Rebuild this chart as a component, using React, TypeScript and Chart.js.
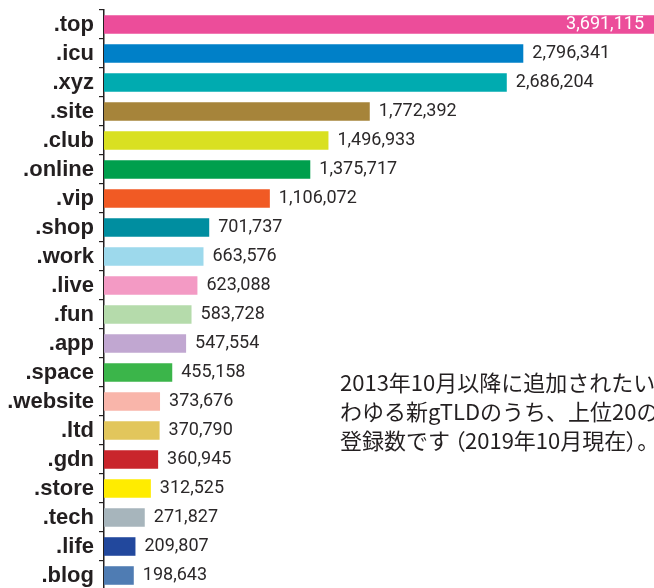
import React, { useEffect, useRef } from "react";
import { Chart, registerables } from "chart.js";

Chart.register(...registerables);

const categories = [
  ".top", ".icu", ".xyz", ".site", ".club", ".online", ".vip", ".shop", ".work", ".live",
  ".fun", ".app", ".space", ".website", ".ltd", ".gdn", ".store", ".tech", ".life", ".blog",
];

const registrations = [
  3691115, 2796341, 2686204, 1772392, 1496933, 1375717, 1106072, 701737, 663576, 623088,
  583728, 547554, 455158, 373676, 370790, 360945, 312525, 271827, 209807, 198643,
];

const barColors = [
  "#ec4d9a", "#0080c8", "#00abb0", "#a6843a", "#d9e021", "#009f4d", "#f15a24", "#008ea0",
  "#9dd9ec", "#f39ac4", "#b5dbab", "#c1a7d1", "#3bb54a", "#f9b5aa", "#e2c65c", "#c9252c",
  "#ffec00", "#a7b5bc", "#22489d", "#4f7cb3",
];

const noteLine1 = "2013年10月以降に追加されたい";
const noteLine2 = "わゆる新gTLDのうち、上位20の";
const noteLine3a = "登録数です";
const noteLine3b = "（2019年10月現在）";
const noteLine3c = "。";

const X_MAX = 3668000;

const valueLabelPlugin = {
  id: "valueLabels",
  afterDatasetsDraw(chart: any) {
    const ctx = chart.ctx;
    const meta = chart.getDatasetMeta(0);
    const area = chart.chartArea;
    ctx.save();
    ctx.font = "18px Roboto";
    ctx.textBaseline = "middle";
    meta.data.forEach((bar: any, i: number) => {
      const v = registrations[i];
      const text = v.toLocaleString("en-US");
      const w = ctx.measureText(text).width;
      if (bar.x + 9 + w > area.right) {
        ctx.fillStyle = "#ffffff";
        ctx.textAlign = "right";
        ctx.fillText(text, Math.min(bar.x, area.right) - 10, bar.y);
      } else {
        ctx.fillStyle = "#2b2829";
        ctx.textAlign = "left";
        ctx.fillText(text, bar.x + 9, bar.y);
      }
    });
    ctx.restore();
  },
};

export default function App() {
  const ref = useRef<HTMLCanvasElement | null>(null);

  useEffect(() => {
    document.documentElement.style.overflow = "hidden";
    document.body.style.overflow = "hidden";
    document.body.style.margin = "0";
    if (!ref.current) return;
    const chart = new Chart(ref.current, {
      type: "bar",
      data: {
        labels: categories,
        datasets: [
          {
            data: registrations,
            backgroundColor: barColors,
            borderWidth: 0,
            barPercentage: 0.64,
            categoryPercentage: 1,
          },
        ],
      },
      options: {
        indexAxis: "y",
        responsive: false,
        maintainAspectRatio: false,
        animation: false,
        layout: { padding: { top: 10, right: 0, bottom: 0, left: 0 } },
        plugins: {
          legend: { display: false },
          tooltip: { enabled: false },
          title: { display: false },
        },
        scales: {
          x: {
            display: false,
            min: 0,
            max: X_MAX,
          },
          y: {
            afterFit: (scale: any) => {
              scale.width = 104;
              scale.paddingTop = 0;
              scale.paddingBottom = 0;
            },
            grid: {
              display: true,
              drawOnChartArea: false,
              drawTicks: true,
              tickLength: 5,
              color: "#231f20",
              lineWidth: 1.2,
              offset: true,
            },
            border: { display: true, color: "#231f20", width: 1.5 },
            ticks: {
              color: "#231f20",
              padding: 5,
              autoSkip: false,
              font: { family: "'Liberation Sans', Arial, sans-serif", size: 22, weight: "bold", lineHeight: 1 },
            },
          },
        },
      },
      plugins: [valueLabelPlugin],
    });
    return () => chart.destroy();
  }, []);

  return (
    <div style={{ position: "fixed", left: 0, top: 0, width: 654, height: 590, background: "#ffffff" }}>
      <canvas ref={ref} width={654} height={590} style={{ width: 654, height: 590, display: "block" }} />
      <div
        style={{
          position: "absolute",
          left: 340,
          top: 367,
          fontFamily: "'Noto Sans CJK JP', sans-serif",
          fontSize: 22,
          lineHeight: "29px",
          color: "#231f20",
          whiteSpace: "nowrap",
        }}
      >
        <div>{noteLine1}</div>
        <div>{noteLine2}</div>
        <div>
          {noteLine3a}
          <span style={{ fontFeatureSettings: '"palt"', marginLeft: 4 }}>{noteLine3b}</span>
          {noteLine3c}
        </div>
      </div>
    </div>
  );
}
